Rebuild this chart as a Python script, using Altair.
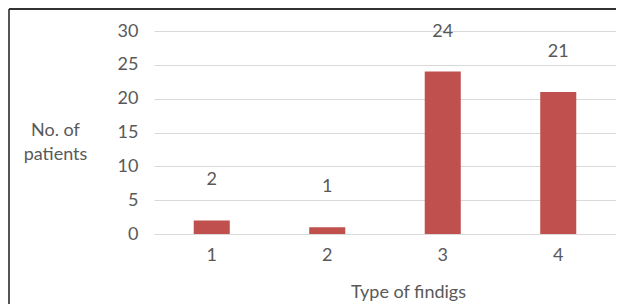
import altair as alt
import pandas as pd

categories = ["1", "2", "3", "4"]
patients = [2, 1, 24, 21]

df = pd.DataFrame({"type": categories, "patients": patients})

W, H = 462, 203
LEFT = 146
FONT = "Lato"
GRAY = "#595959"
FS = 18

x = alt.X("type:N", sort=categories,
          scale=alt.Scale(paddingInner=0.688, paddingOuter=0.344),
          axis=alt.Axis(title="Type of findigs", labelAngle=0, ticks=False,
                        domainColor="#d9d9d9", labelPadding=12, titlePadding=19,
                        titleX=254, titleFontWeight="normal"))
y = alt.Y("patients:Q", scale=alt.Scale(domain=[0, 30]),
          axis=alt.Axis(values=[0, 5, 10, 15, 20, 25, 30], title=["No. of", "patients"],
                        titleAngle=0, titleAlign="center", titleBaseline="top",
                        titleX=-99, titleY=90, titleLineHeight=24, ticks=False, domain=False,
                        labelPadding=16, gridColor="#d9d9d9", titleFontWeight="normal"))

bars = alt.Chart(df).mark_bar(color="#C0504D").encode(x=x, y=y)
labels = alt.Chart(df).mark_text(dy=-40, baseline="middle", fontSize=FS, font=FONT,
                                 color=GRAY).encode(x=x, y=y, text="patients:Q")

border_v = alt.Chart(df).mark_rule(color="#555555", strokeWidth=1.5).encode(
    x=alt.value(-LEFT + 1), y=alt.value(-22), y2=alt.value(H + 75))
border_h = alt.Chart(df).mark_rule(color="#333333", strokeWidth=1.5).encode(
    y=alt.value(-22), x=alt.value(-LEFT + 1), x2=alt.value(W))

chart = alt.layer(border_v, border_h, bars, labels).properties(
    width=W, height=H,
    autosize=alt.AutoSizeParams(type="none"),
    padding={"left": LEFT, "top": 23, "right": 0, "bottom": 70},
).configure_view(stroke=None).configure_axis(
    labelFont=FONT, titleFont=FONT, labelFontSize=FS, titleFontSize=FS,
    labelColor=GRAY, titleColor=GRAY, grid=True,
).configure_axisX(grid=False)

chart.save("out.html", embed_options={"renderer": "svg", "actions": False})
